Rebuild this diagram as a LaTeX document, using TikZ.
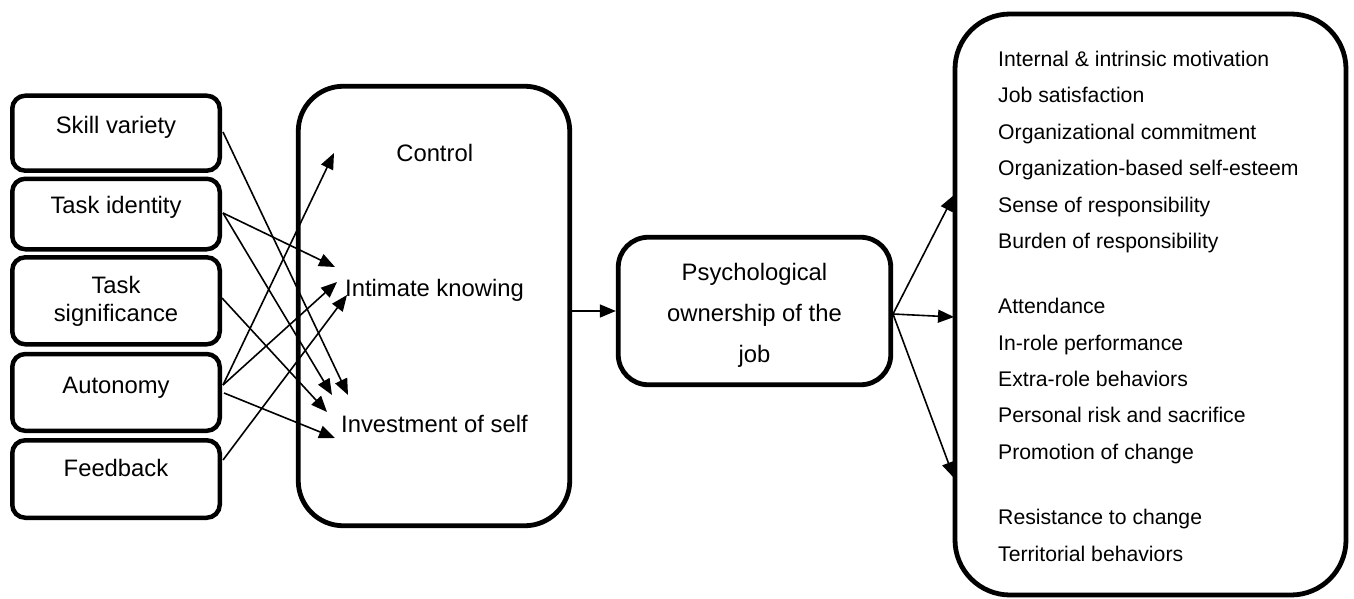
\documentclass[tikz,border=0pt]{standalone}
\usepackage{fontspec}
\setmainfont{Liberation Sans}
\usetikzlibrary{arrows.meta}
\begin{document}
\begin{tikzpicture}[x=1pt,y=-1pt,
  lbox/.style={draw, line width=4.5pt, rounded corners=13pt, minimum width=207.5pt, inner sep=0pt},
  bigbox/.style={draw, line width=4.8pt, inner sep=0pt},
  lbl/.style={font=\fontsize{23.8}{28.5}\selectfont, inner sep=0pt, anchor=base},
  item/.style={font=\fontsize{21.2}{25}\selectfont, inner sep=0pt, anchor=base west},
  link/.style={line width=1.6pt, -{Triangle[length=16pt,width=13pt]}}]
\useasboundingbox (0,0) rectangle (1354,599);

% job characteristics
\node[lbox, minimum height=75pt]   (skill) at (116,133.2) {};
\node[lbox, minimum height=70.5pt] (ident) at (116,214)   {};
\node[lbox, minimum height=87pt]   (signif) at (116,300.8) {};
\node[lbox, minimum height=76.8pt] (auto)  at (116,392.4) {};
\node[lbox, minimum height=77.5pt] (feed)  at (116,479)   {};

\node[lbl] (t-skill) at (116,133) {Skill variety};
\node[lbl] (t-ident) at (116,213) {Task identity};
\node[lbl] (t-sig1)  at (116,293) {Task};
\node[lbl] (t-sig2)  at (116,321) {significance};
\node[lbl] (t-auto)  at (116,393) {Autonomy};
\node[lbl] (t-feed)  at (116,476) {Feedback};

% routes to ownership
\node[bigbox, rounded corners=45pt, minimum width=271.5pt, minimum height=439.5pt] (mid) at (434,306) {};
\node[lbl] (control) at (434.7,161) {Control};
\node[lbl, anchor=base west] (knowing) at (345,296) {Intimate knowing};
\node[lbl, anchor=base west] (invest)  at (341,432) {Investment of self};

% psychological ownership
\node[bigbox, rounded corners=30pt, minimum width=272.5pt, minimum height=147.5pt] (psych) at (754.5,311) {};
\node[lbl] (p1) at (754.5,280) {Psychological};
\node[lbl] (p2) at (754.5,321) {ownership of the};
\node[lbl] (p3) at (754.5,362) {job};

% outcomes
\node[bigbox, rounded corners=55pt, minimum width=391pt, minimum height=581pt] (outcomes) at (1150.5,304.5) {};
\node[item] (r1)  at (998,66.6)  {Internal \& intrinsic motivation};
\node[item] (r2)  at (998,103)   {Job satisfaction};
\node[item] (r3)  at (998,139.4) {Organizational commitment};
\node[item] (r4)  at (998,175.8) {Organization-based self-esteem};
\node[item] (r5)  at (998,212.2) {Sense of responsibility};
\node[item] (r6)  at (998,248.6) {Burden of responsibility};
\node[item] (r7)  at (998,313.6) {Attendance};
\node[item] (r8)  at (998,350)   {In-role performance};
\node[item] (r9)  at (998,386.4) {Extra-role behaviors};
\node[item] (r10) at (998,422.8) {Personal risk and sacrifice};
\node[item] (r11) at (998,459.2) {Promotion of change};
\node[item] (r12) at (998,524.6) {Resistance to change};
\node[item] (r13) at (998,561)   {Territorial behaviors};

% connector end points
\coordinate (skill-o) at (223,132);
\coordinate (ident-o) at (223,213);
\coordinate (signif-o) at (222,298);
\coordinate (auto-o1) at (223,385);
\coordinate (auto-o2) at (224,393);
\coordinate (feed-o)  at (223,460);

\coordinate (control-i) at (334,153);
\coordinate (know-i1) at (335,267);
\coordinate (know-i2) at (337,282);
\coordinate (know-i3) at (347,295);
\coordinate (inv-i1) at (332,395);
\coordinate (inv-i2) at (348,395);
\coordinate (inv-i3) at (327,412);
\coordinate (inv-i4) at (335,438);

\coordinate (psych-o) at (893,314);
\coordinate (out-a) at (954,195);
\coordinate (out-b) at (954,317);
\coordinate (out-c) at (954,478);

% connectors
\draw[link] (skill-o) -- (inv-i2);
\draw[link] (ident-o) -- (know-i1);
\draw[link] (ident-o) -- (inv-i1);
\draw[link] (signif-o) -- (inv-i3);
\draw[link] (auto-o1) -- (control-i);
\draw[link] (auto-o1) -- (know-i2);
\draw[link] (auto-o2) -- (inv-i4);
\draw[link] (feed-o) -- (know-i3);

\draw[link] (mid.east |- psych.west) -- (psych.west);

\draw[link] (psych-o) -- (out-a);
\draw[link] (psych-o) -- (out-b);
\draw[link] (psych-o) -- (out-c);
\end{tikzpicture}
\end{document}
